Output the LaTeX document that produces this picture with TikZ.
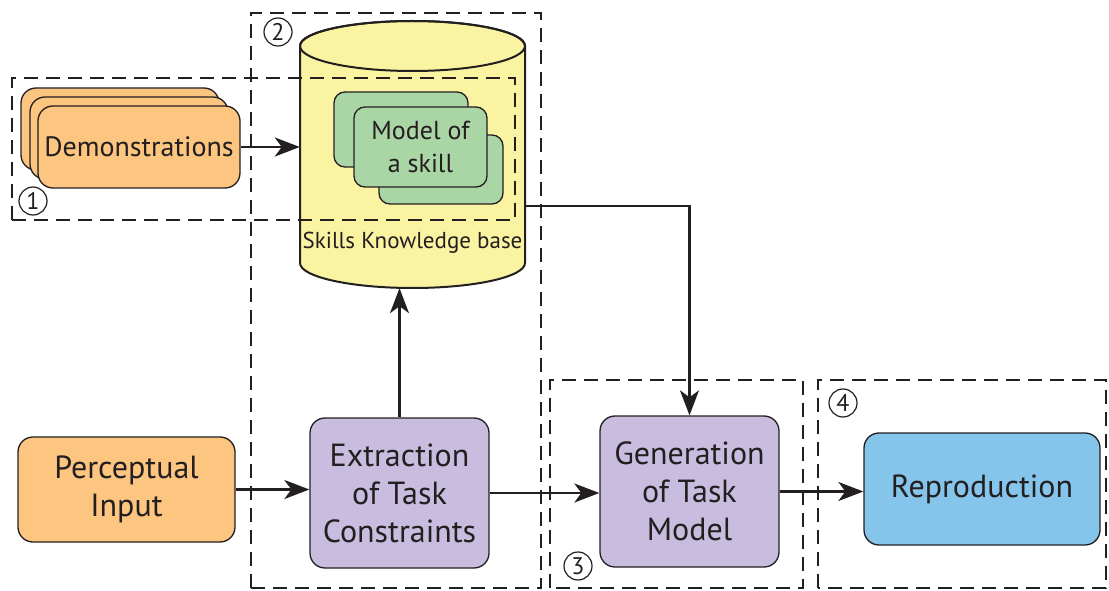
\documentclass[tikz,border=0pt]{standalone}
\usepackage{fontspec}
\setmainfont{PT Sans}
\usetikzlibrary{arrows.meta}

\definecolor{demoorange}{HTML}{FCC580}
\definecolor{kbyellow}{HTML}{FAF4A2}
\definecolor{skillgreen}{HTML}{AAD6A5}
\definecolor{taskpurple}{HTML}{C8BDDE}
\definecolor{reproblue}{HTML}{85C5EB}
\definecolor{ink}{HTML}{231F20}

\tikzset{
  block/.style={draw=ink, line width=1.3pt, rounded corners=15pt, align=center,
    text=ink, inner sep=0pt, font=\fontsize{32}{38}\selectfont},
  skillbox/.style={block, fill=skillgreen, rounded corners=11pt, font=\fontsize{26}{33}\selectfont},
  stage/.style={draw=ink, line width=2.5pt, dash pattern=on 14pt off 8pt},
  flow/.style={draw=ink, line width=2.5pt, -{Stealth[length=25pt,width=19pt,inset=7pt]}},
  stepnum/.style={circle, draw=ink, line width=1.2pt, minimum size=28pt, inner sep=0pt,
    text=ink, font=\fontsize{24}{24}\selectfont}
}

\begin{document}
\begin{tikzpicture}[x=1pt, y=1pt]
    \useasboundingbox (0,0) rectangle (1109,590);

    % stage 1: demonstrations
    \node[block, fill=demoorange, minimum width=198pt, minimum height=82pt] (demoA) at (120,461) {};
    \node[block, fill=demoorange, minimum width=198pt, minimum height=82pt] (demoB) at (129,452) {};
    \node[block, fill=demoorange, minimum width=202pt, minimum height=82pt,
          font=\fontsize{28}{30}\selectfont] (demo) at (139,443) {Demonstrations};

    % knowledge base cylinder
    \filldraw[fill=kbyellow, draw=ink, line width=2pt] (300,544) -- (300,327)
        arc[start angle=180, end angle=360, x radius=112.5, y radius=25] -- (525,544)
        arc[start angle=0, end angle=180, x radius=112.5, y radius=25] -- cycle;
    \draw[ink, line width=2pt] (412.5,544) ellipse [x radius=112.5, y radius=25];
    \node[minimum width=225pt, minimum height=267pt, inner sep=0pt] (kb) at (412.5,435.5) {};
    \node[text=ink, font=\fontsize{23}{24}\selectfont] (kbname) at (412.5,347) {Skills Knowledge base};
    \coordinate (kbout) at (525,384);

    \node[skillbox, minimum width=134pt, minimum height=75pt] (skillA) at (401,460.5) {};
    \node[skillbox, minimum width=124pt, minimum height=69pt] (skillC) at (441,420.5) {};
    \node[skillbox, minimum width=133pt, minimum height=80pt] (skill) at (420.5,443) {Model of\\a skill};

    % main chain
    \node[block, fill=demoorange, minimum width=217pt, minimum height=105pt] (percep) at (126.5,100.5) {Perceptual\\Input};
    \node[block, fill=taskpurple, minimum width=179pt, minimum height=150pt] (extr) at (399.5,97) {Extraction\\of Task\\Constraints};
    \node[block, fill=taskpurple, minimum width=179pt, minimum height=151pt] (gen) at (689.5,98.5) {Generation\\of Task\\Model};
    \node[block, fill=reproblue, minimum width=236pt, minimum height=112pt] (repro) at (982,101) {Reproduction};

    % dashed stages
    \draw[stage] (12,370) rectangle (515,512);
    \draw[stage] (251,2) rectangle (541,577);
    \draw[stage] (550,2) rectangle (803,210);
    \draw[stage] (818,2) rectangle (1106,210);

    \node[stepnum] (n1) at (33,389) {1};
    \node[stepnum] (n2) at (278,558) {2};
    \node[stepnum] (n3) at (578,24) {3};
    \node[stepnum] (n4) at (843,187) {4};

    % connectors
    \draw[flow] (demo.east) -- (demo.east -| kb.west);
    \draw[flow] (percep.east) -- (percep.east -| extr.west);
    \draw[flow] (extr.east) -- (extr.east -| gen.west);
    \draw[flow] (gen.east) -- (gen.east -| repro.west);
    \draw[flow] (extr.north) -- (extr.north |- kb.south);
    \draw[flow] (kbout) -| (gen.north);
\end{tikzpicture}
\end{document}
